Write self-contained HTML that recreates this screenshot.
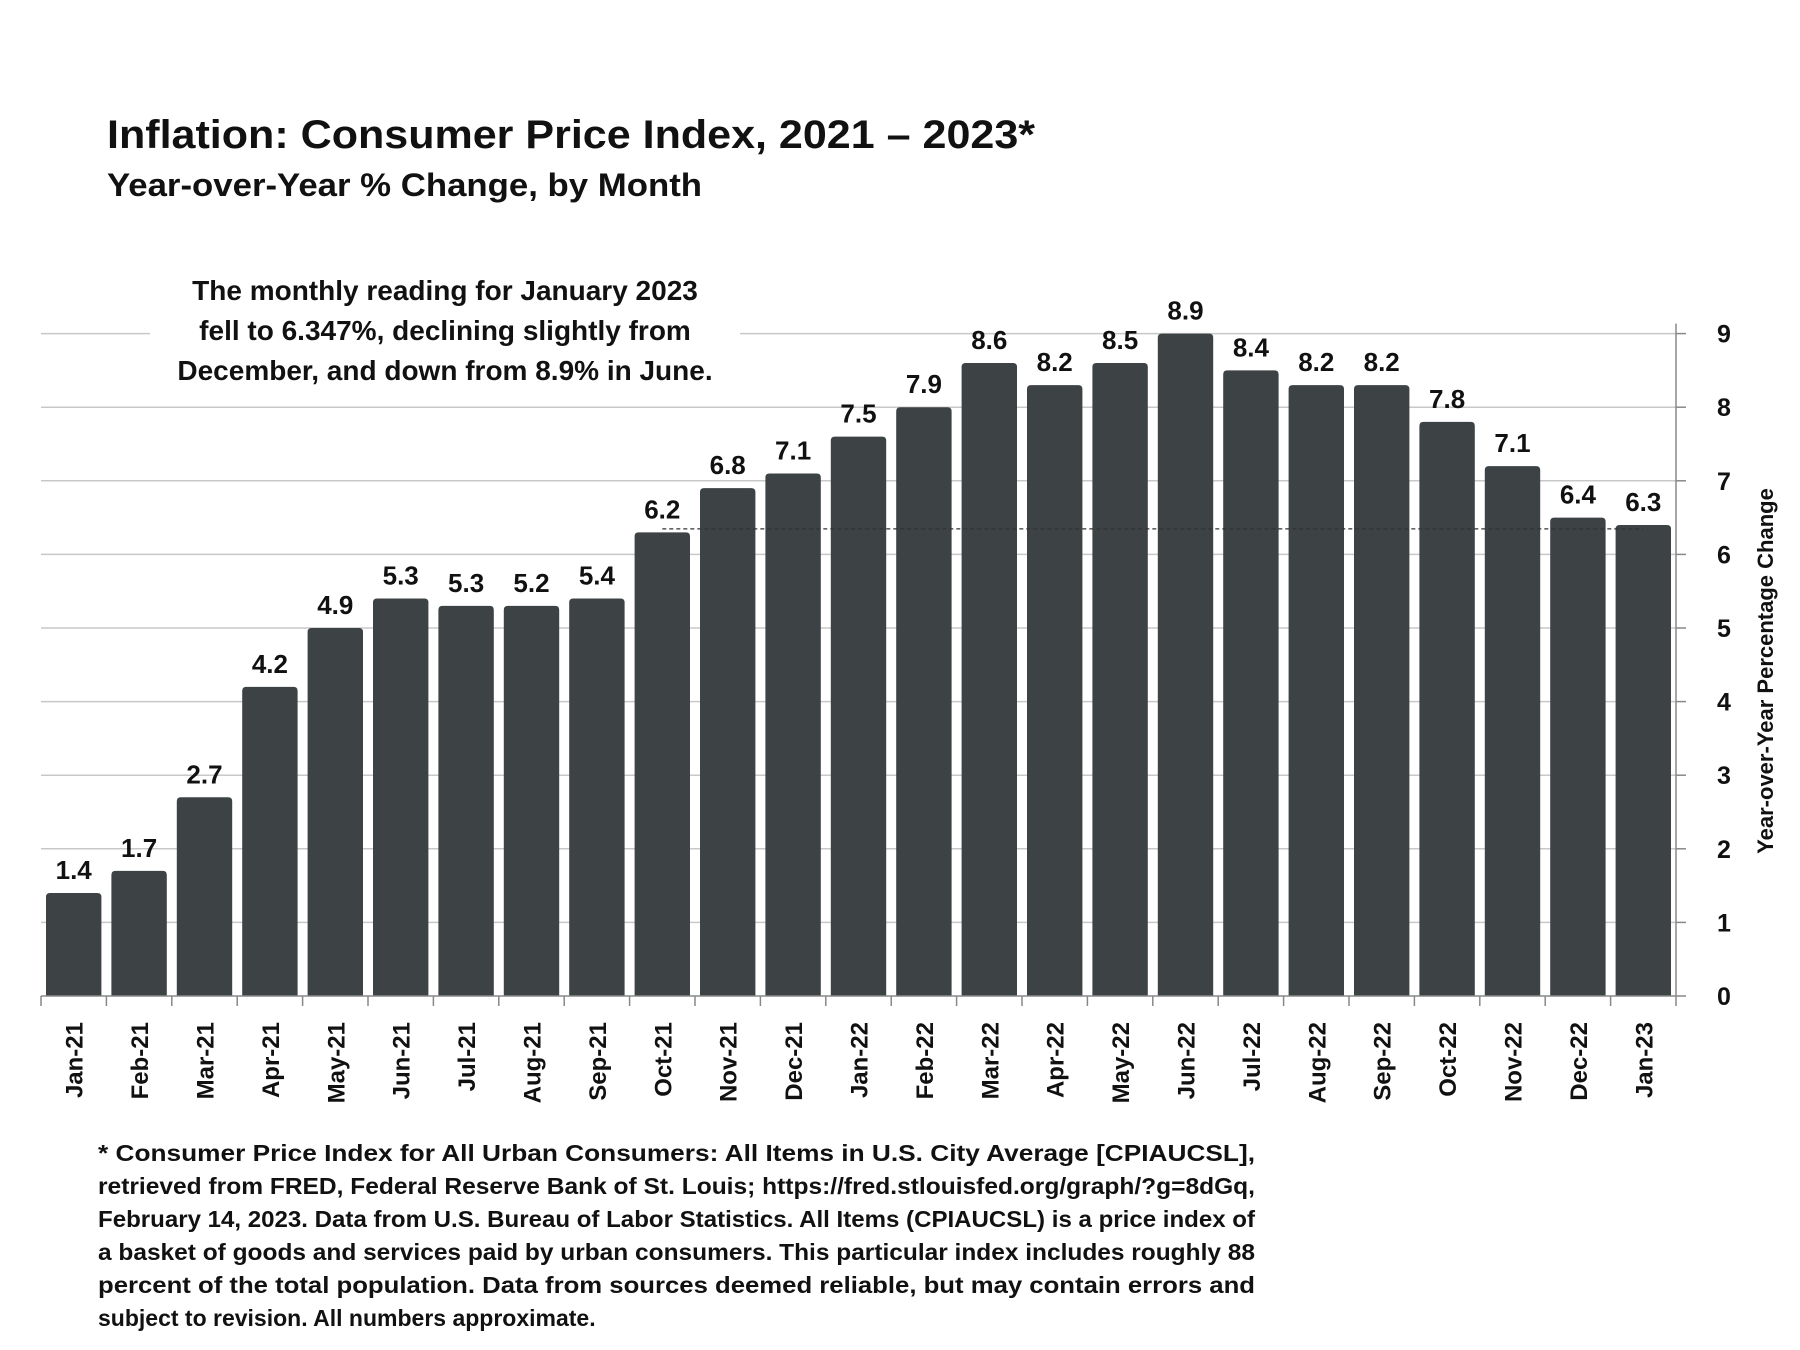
<!DOCTYPE html>
<html><head><meta charset="utf-8"><style>
body{margin:0;background:#fff;}
svg{display:block;font-family:"Liberation Sans",sans-serif;}
</style></head><body>
<svg id="chart" width="1800" height="1350" viewBox="0 0 1800 1350">
<text x="107" y="148" font-size="40" font-weight="bold" fill="#111" textLength="928" lengthAdjust="spacingAndGlyphs">Inflation: Consumer Price Index, 2021 – 2023*</text>
<text x="107" y="196" font-size="32" font-weight="bold" fill="#111" textLength="595" lengthAdjust="spacingAndGlyphs">Year-over-Year % Change, by Month</text>
<g id="grid"></g>
<g id="bars"></g>
<g id="ax"></g>
<rect x="150" y="268" width="590" height="118" fill="#fff"/>
<g font-size="28" font-weight="bold" fill="#111" text-anchor="middle">
<text x="445" y="300">The monthly reading for January 2023</text>
<text x="445" y="340">fell to 6.347%, declining slightly from</text>
<text x="445" y="380">December, and down from 8.9% in June.</text>
</g>
<text transform="translate(1773,671) rotate(-90)" text-anchor="middle" font-size="22" font-weight="bold" fill="#111">Year-over-Year Percentage Change</text>
<g font-size="23" font-weight="bold" fill="#111">
<text x="98" y="1161" textLength="1157" lengthAdjust="spacingAndGlyphs">* Consumer Price Index for All Urban Consumers: All Items in U.S. City Average [CPIAUCSL],</text>
<text x="98" y="1194" textLength="1157" lengthAdjust="spacingAndGlyphs">retrieved from FRED, Federal Reserve Bank of St. Louis; https://fred.stlouisfed.org/graph/?g=8dGq,</text>
<text x="98" y="1227" textLength="1157" lengthAdjust="spacingAndGlyphs">February 14, 2023. Data from U.S. Bureau of Labor Statistics. All Items (CPIAUCSL) is a price index of</text>
<text x="98" y="1260" textLength="1157" lengthAdjust="spacingAndGlyphs">a basket of goods and services paid by urban consumers. This particular index includes roughly 88</text>
<text x="98" y="1293" textLength="1157" lengthAdjust="spacingAndGlyphs">percent of the total population. Data from sources deemed reliable, but may contain errors and</text>
<text x="98" y="1326">subject to revision. All numbers approximate.</text>
</g>
</svg>
<script>
const categories=["Jan-21","Feb-21","Mar-21","Apr-21","May-21","Jun-21","Jul-21","Aug-21","Sep-21","Oct-21","Nov-21","Dec-21","Jan-22","Feb-22","Mar-22","Apr-22","May-22","Jun-22","Jul-22","Aug-22","Sep-22","Oct-22","Nov-22","Dec-22","Jan-23"];
const values=[1.4,1.7,2.7,4.2,5.0,5.4,5.3,5.3,5.4,6.3,6.9,7.1,7.6,8.0,8.6,8.3,8.6,9.0,8.5,8.3,8.3,7.8,7.2,6.5,6.4];
const valueLabels=["1.4","1.7","2.7","4.2","4.9","5.3","5.3","5.2","5.4","6.2","6.8","7.1","7.5","7.9","8.6","8.2","8.5","8.9","8.4","8.2","8.2","7.8","7.1","6.4","6.3"];
const yTicks=[0,1,2,3,4,5,6,7,8,9];
const refValue=6.347;
const refStartIndex=9;
const NS="http://www.w3.org/2000/svg";
const x0=41,x1=1676,y0=996,unit=73.6;
const step=(x1-x0)/categories.length;
const X=i=>x0+i*step;
const Y=v=>y0-v*unit;
function mk(t,a,p){const e=document.createElementNS(NS,t);for(const k in a)e.setAttribute(k,a[k]);p.appendChild(e);return e;}
const grid=document.getElementById('grid'),bars=document.getElementById('bars'),ax=document.getElementById('ax');
yTicks.forEach(t=>{
 if(t>0){const l=mk('line',{x1:x0,x2:x1,y1:Y(t),y2:Y(t),stroke:'#c8c8c8','stroke-width':1.5},grid);
 
 }
 const tk=mk('line',{x1:x1,x2:x1+10,y1:Y(t),y2:Y(t),stroke:'#888','stroke-width':1.5},ax);
 
 
 const tx=mk('text',{x:1724,y:Y(t)+9,'font-size':25,'font-weight':'bold','text-anchor':'middle',fill:'#111'},ax);
 tx.textContent=t;
 
 
});
values.forEach((v,i)=>{
 const bx=X(i)+5,bw=step-10,top=Y(v),r=4;
 const p=mk('path',{d:`M${bx},${y0}V${top+r}Q${bx},${top} ${bx+r},${top}H${bx+bw-r}Q${bx+bw},${top} ${bx+bw},${top+r}V${y0}Z`,fill:'#3d4244'},bars);
 
 
 const lb=mk('text',{x:X(i)+step/2,y:top-14,'font-size':26,'font-weight':'bold','text-anchor':'middle',fill:'#111'},bars);
 lb.textContent=valueLabels[i];
 
 
 const xl=mk('text',{transform:`translate(${X(i)+step/2+9},1022) rotate(-90)`,'font-size':24,'font-weight':'bold','text-anchor':'end',fill:'#111'},ax);
 xl.textContent=categories[i];
 
 
});
for(let i=0;i<=categories.length;i++){
 const t=mk('line',{x1:X(i),x2:X(i),y1:y0,y2:y0+10,stroke:'#888','stroke-width':1.5},ax);
 
 
}
const ref=mk('line',{x1:X(refStartIndex)+step/2,x2:X(categories.length-1)+step/2,y1:Y(refValue),y2:Y(refValue),stroke:'#333','stroke-width':1.2,'stroke-dasharray':'4,3'},ax);


const yax=mk('line',{x1:x1,x2:x1,y1:Y(9)-10,y2:y0,stroke:'#888','stroke-width':1.5},ax);


const xax=mk('line',{x1:x0,x2:x1,y1:y0,y2:y0,stroke:'#888','stroke-width':1.5},ax);


</script>
</body></html>
